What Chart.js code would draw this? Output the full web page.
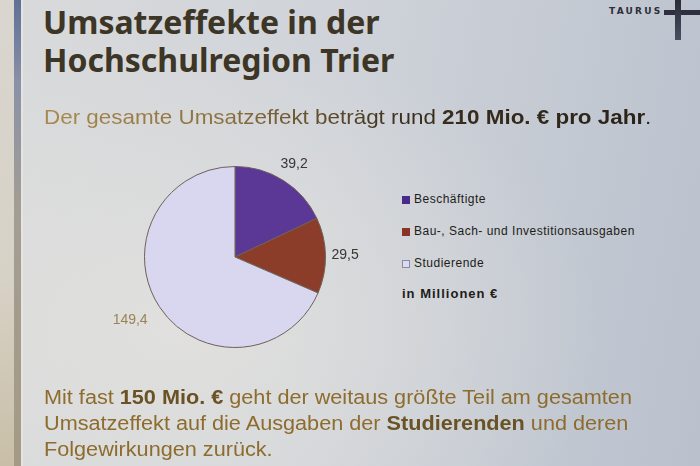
<!DOCTYPE html>
<html><head><meta charset="utf-8">
<script src="https://cdn.jsdelivr.net/npm/chart.js@4/dist/chart.umd.min.js"></script>
<style>
html,body{margin:0;padding:0;}
body{width:700px;height:466px;overflow:hidden;position:relative;
 background:
  radial-gradient(ellipse 420px 300px at 180px 330px, rgba(226,225,222,0.9), rgba(226,225,222,0) 100%),
  linear-gradient(100deg,#d9dadb 0%,#cfd3d9 45%,#bac1cd 100%);
 font-family:"Liberation Sans",Arial,sans-serif;}
#edge{position:absolute;left:0;top:0;width:14px;height:466px;background:linear-gradient(180deg,#d9d6d0,#d7d2c6 60%,#c9bfa8);}
#bar{position:absolute;left:14px;top:0;width:7px;height:466px;background:linear-gradient(180deg,#5f6f95 0%,#8a91a8 18%,#a39e93 45%,#a49a85 100%);}
#bar2{position:absolute;left:21px;top:0;width:2px;height:466px;background:#e6e4e0;}
#title{position:absolute;left:43px;top:3px;font-family:"Noto Sans",sans-serif;font-weight:700;font-size:32px;line-height:38px;color:#3d3526;}
#sub{position:absolute;left:44px;top:105px;font-size:21px;white-space:nowrap;transform-origin:0 0;transform:scaleX(1.067);
 background:linear-gradient(90deg,#a88a4e 0%,#8c7040 30%,#3a2e1e 60%,#2a2218 100%);-webkit-background-clip:text;background-clip:text;color:transparent;}
#sub b{font-weight:700;}
#bottom{position:absolute;left:44px;top:384px;font-size:19.5px;line-height:26px;color:#8d6c2e;white-space:nowrap;transform-origin:0 0;transform:scaleX(1.11);}
#bottom b{color:#6a5224;}
#logo{position:absolute;left:609px;top:6px;font-family:"DejaVu Sans",sans-serif;font-weight:700;font-size:9px;letter-spacing:2.2px;color:#2e2e3a;}
#lh{position:absolute;left:664px;top:10px;width:36px;height:5px;background:#2e3040;}
#lv{position:absolute;left:675px;top:0;width:6px;height:40px;background:linear-gradient(180deg,#2a2c38,#4a4e60);}
#chartbox{position:absolute;left:85px;top:137px;width:300px;height:240px;}
#legend{position:absolute;left:402px;top:192px;font-size:12px;color:#221c18;letter-spacing:0.5px;}
.li{height:32px;display:flex;align-items:flex-start;}
.sw{width:8px;height:8px;margin-top:4px;margin-right:4px;box-sizing:border-box;}
#unit{font-weight:700;font-size:13px;margin-top:-2px;letter-spacing:1px;}
</style></head><body>
<div id="edge"></div><div id="bar"></div><div id="bar2"></div>
<div id="title">Umsatzeffekte in der<br>Hochschulregion Trier</div>
<div id="sub">Der gesamte Umsatzeffekt beträgt rund <b>210 Mio. € pro Jahr</b>.</div>
<div id="logo">TAURUS</div><div id="lh"></div><div id="lv"></div>
<div id="chartbox"><canvas id="c"></canvas></div>
<div id="legend"></div>
<div id="bottom">Mit fast <b>150 Mio. €</b> geht der weitaus größte Teil am gesamten<br>Umsatzeffekt auf die Ausgaben der <b>Studierenden</b> und deren<br>Folgewirkungen zurück.</div>
<script>
const categories = ["Beschäftigte", "Bau-, Sach- und Investitionsausgaben", "Studierende"];
const values = [39.2, 29.5, 149.4];
const valueLabels = ["39,2", "29,5", "149,4"];
const unitLabel = "in Millionen €";
const sliceColors = ["#5b3796", "#8c3d2a", "#d9d7f0"];
const swatchColors = ["#4a2a88", "#8a3428", "#dcdaf2"];
const labelColors = ["#3a3634", "#3a3634", "#9a8456"];

const legend = document.getElementById('legend');
categories.forEach((c,i)=>{
  const d=document.createElement('div');d.className='li';
  const s=document.createElement('div');s.className='sw';s.style.background=swatchColors[i];
  if(i===2) s.style.border='1px solid #8a8aa0';
  const t=document.createElement('span');t.textContent=c;
  d.appendChild(s);d.appendChild(t);legend.appendChild(d);
});
const u=document.createElement('div');u.id='unit';u.textContent=unitLabel;legend.appendChild(u);

const labelPlugin={id:'outLabels',afterDatasetsDraw(chart){
  const ctx=chart.ctx;const meta=chart.getDatasetMeta(0);
  ctx.save();ctx.font='14px "Liberation Sans", Arial, sans-serif';
  meta.data.forEach((arc,i)=>{
    const p=arc.getProps(['x','y','startAngle','endAngle','outerRadius'],true);
    const mid=(p.startAngle+p.endAngle)/2;
    const sn=Math.cos(mid);
    let align='center', r=p.outerRadius+20, dy=0;
    if(Math.abs(sn)>=0.6){
      if(sn>0){align='left';r=p.outerRadius+6;}
      else {align='right';r=p.outerRadius+14;dy=6;}
    }
    const x=p.x+Math.cos(mid)*r, y=p.y+Math.sin(mid)*r+dy;
    ctx.textAlign=align;ctx.textBaseline='middle';ctx.fillStyle=labelColors[i];
    ctx.fillText(valueLabels[i],x,y);
  });
  ctx.restore();
}};

new Chart(document.getElementById('c'),{
  type:'pie',
  data:{labels:categories,datasets:[{data:values,backgroundColor:sliceColors,borderColor:'#6e5f5a',borderWidth:1}]},
  options:{responsive:true,maintainAspectRatio:false,animation:false,
    layout:{padding:{top:29,bottom:29,left:59,right:59}},
    plugins:{legend:{display:false},tooltip:{enabled:false}}},
  plugins:[labelPlugin]
});
</script>
</body></html>
